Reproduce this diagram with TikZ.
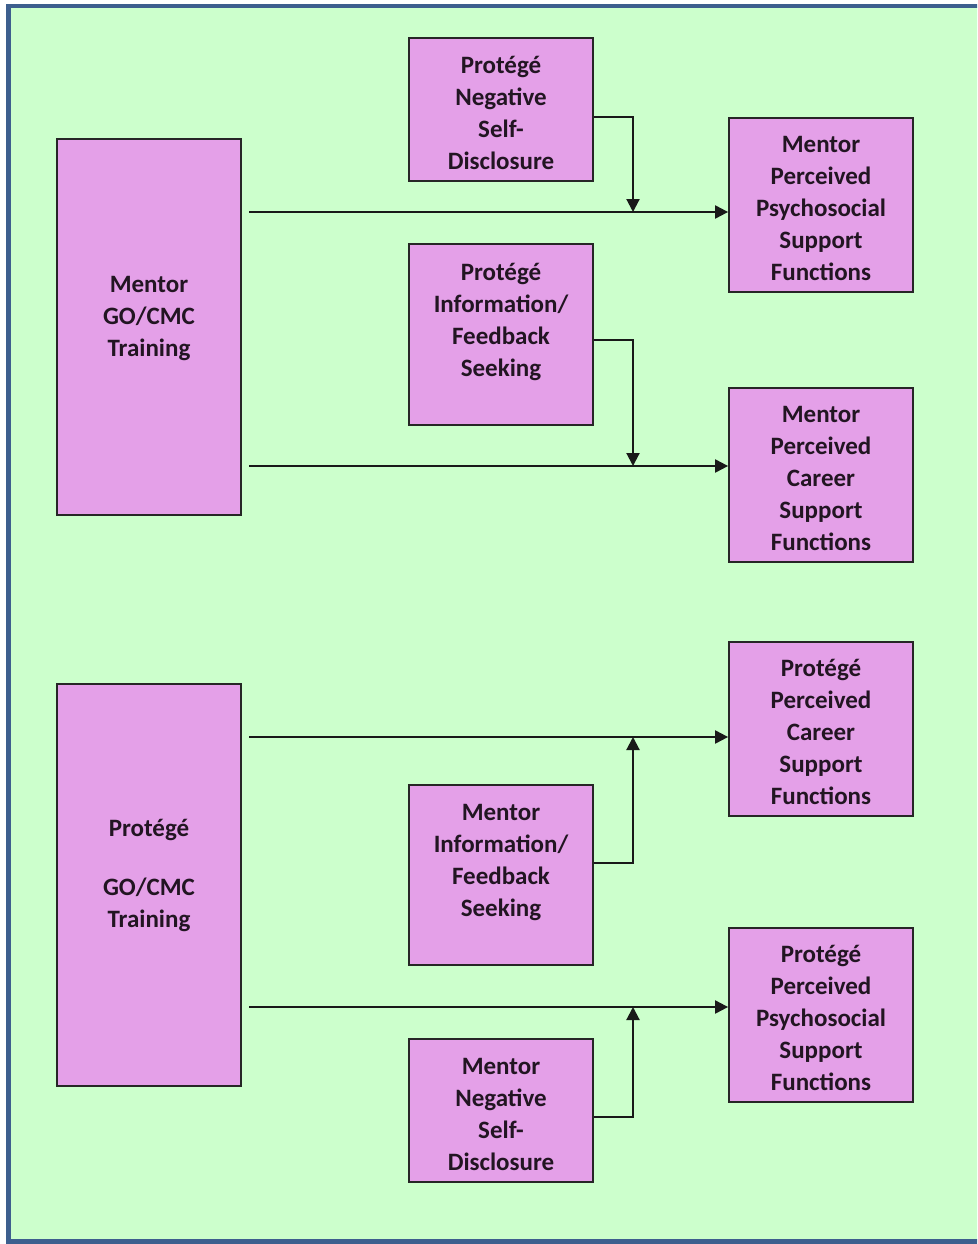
\documentclass[tikz,border=0pt]{standalone}
\usepackage{fontspec}
\setmainfont{Carlito}
\usetikzlibrary{arrows.meta}
\definecolor{bggreen}{HTML}{CCFFCC}
\definecolor{boxviolet}{HTML}{E4A0E8}
\definecolor{frameblue}{HTML}{3D5F8E}
\definecolor{inkdark}{HTML}{221522}
\tikzset{
  blk/.style={draw=black!85, line width=1.8pt, fill=boxviolet, inner sep=0pt,
    minimum width=184pt},
  lbl/.style={text=inkdark, align=center, inner sep=0pt,
    font=\bfseries\fontsize{25}{32}\selectfont},
  link/.style={draw=black!90, line width=2.1pt, -{Triangle[length=13pt,width=13pt]}},
}
\begin{document}
\begin{tikzpicture}[x=1pt,y=-1pt]
\useasboundingbox (0,0) rectangle (977,1244);
\clip (0,0) rectangle (977,1244);
% page frame
\draw[frameblue, line width=4.5pt, fill=bggreen] (8.5,6) rectangle (995,1241.5);

% training boxes (left)
\node[blk, minimum height=376pt] (mgo) at (149,327) {};
\node[lbl] (mgot) at ([yshift=8pt]mgo.center) {Mentor\\GO/CMC\\Training};
\node[blk, minimum height=402pt] (pgo) at (149,885) {};
\node[lbl] (pgot) at ([yshift=9.5pt]pgo.center) {Protégé\\[27pt]GO/CMC\\Training};

% moderators (middle)
\node[blk, minimum height=143pt] (pnsd) at (501,109.5) {};
\node[lbl] (pnsdt) at ([yshift=-3pt]pnsd.center) {Protégé\\Negative\\Self-\\Disclosure};
\node[blk, minimum height=181pt] (pifs) at (501,334.5) {};
\node[lbl] (pifst) at ([yshift=13pt]pifs.center) {Protégé\\Information/\\Feedback\\Seeking};
\node[blk, minimum height=180pt] (mifs) at (501,875) {};
\node[lbl] (mifst) at ([yshift=12pt]mifs.center) {Mentor\\Information/\\Feedback\\Seeking};
\node[blk, minimum height=143pt] (mnsd) at (501,1110.5) {};
\node[lbl] (mnsdt) at ([yshift=-4pt]mnsd.center) {Mentor\\Negative\\Self-\\Disclosure};

% outcomes (right)
\node[blk, minimum height=174pt] (mpps) at (821,205) {};
\node[lbl] (mppst) at ([yshift=-3pt]mpps.center) {Mentor\\Perceived\\Psychosocial\\Support\\Functions};
\node[blk, minimum height=174pt] (mpcs) at (821,475) {};
\node[lbl] (mpcst) at ([yshift=-3pt]mpcs.center) {Mentor\\Perceived\\Career\\Support\\Functions};
\node[blk, minimum height=174pt] (ppcs) at (821,729) {};
\node[lbl] (ppcst) at ([yshift=-3pt]ppcs.center) {Protégé\\Perceived\\Career\\Support\\Functions};
\node[blk, minimum height=174pt] (ppps) at (821,1015) {};
\node[lbl] (pppst) at ([yshift=-3pt]ppps.center) {Protégé\\Perceived\\Psychosocial\\Support\\Functions};

% start points of the main paths and junctions of the moderator arrows
\coordinate (s1) at (249,212);
\coordinate (s2) at (249,466);
\coordinate (s3) at (249,737);
\coordinate (s4) at (249,1007);
\coordinate (j1) at (633,212);
\coordinate (j2) at (633,466);
\coordinate (j3) at (633,737);
\coordinate (j4) at (633,1007);

% main paths
\draw[link] (s1) -- (s1 -| mpps.west);
\draw[link] (s2) -- (s2 -| mpcs.west);
\draw[link] (s3) -- (s3 -| ppcs.west);
\draw[link] (s4) -- (s4 -| ppps.west);

% moderator arrows
\draw[link] ([yshift=-7.5pt]pnsd.east) -| (j1);
\draw[link] ([yshift=-5.5pt]pifs.east) -| (j2);
\draw[link] ([yshift=12pt]mifs.east) -| (j3);
\draw[link] ([yshift=-6.5pt]mnsd.east) -| (j4);
\end{tikzpicture}
\end{document}
